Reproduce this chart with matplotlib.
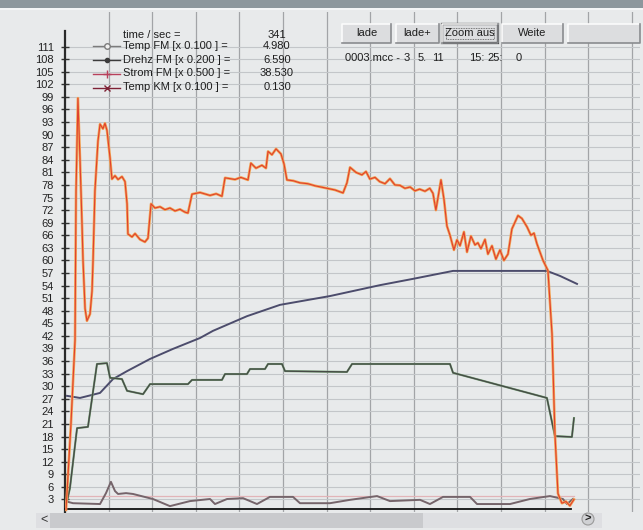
import matplotlib
matplotlib.use('Agg')
import matplotlib.pyplot as plt
from matplotlib.patches import Rectangle, Circle
from matplotlib.lines import Line2D

W, H = 643, 530
FONT = ['Liberation Sans Narrow', 'Liberation Sans', 'DejaVu Sans']
plt.rcParams['font.family'] = FONT

# ---------------- data (time in s, values in display units) ----------------
strom_t = [0.7, 4.1, 6.9, 7.6, 8.9, 10.3, 11.7, 12.4, 13.8, 15.1, 17.2, 18.6, 19.3, 20.6, 22.7,
           24.1, 26.1, 27.5, 28.9, 31.0, 32.3, 34.4, 36.5, 39.2, 41.3, 42.7, 43.3, 46.1, 48.2,
           51.6, 55.0, 57.1, 59.2, 61.9, 65.4, 68.8, 72.2, 75.7, 79.1, 82.6, 84.6, 87.4, 92.9,
           99.8, 104.0, 108.0, 110.1, 117.0, 121.0, 125.9, 127.9, 131.4, 135.5, 138.3, 139.7,
           142.4, 145.2, 148.6, 150.7, 152.7, 157.0, 161.7, 167.0, 172.0, 178.9, 185.8, 191.3,
           194.0, 196.1, 200.2, 204.3, 207.1, 209.8, 213.3, 216.5, 220.2, 223.6, 227.0, 230.5,
           233.9, 237.5, 240.8, 244.0, 247.7, 251.0, 253.2, 255.2, 258.7, 260.8, 262.8, 264.9,
           267.6, 269.7, 271.8, 274.5, 276.6, 279.3, 282.1, 284.1, 286.2, 289.0, 291.0, 293.8,
           296.5, 299.3, 302.0, 304.8, 307.5, 311.7, 314.4, 317.9, 320.6, 322.7, 324.7, 328.9,
           332.3, 335.1, 337.1, 339.2, 341.9, 344.7, 347.4, 350.2]
strom_v = [0.5, 21.0, 41.0, 76.6, 98.7, 84.4, 68.7, 60.0, 48.5, 45.6, 47.2, 52.7, 60.0, 76.6, 88.5,
           92.5, 91.4, 92.7, 91.0, 84.4, 79.4, 80.2, 79.3, 80.0, 78.8, 73.5, 66.3, 65.6, 66.4,
           65.0, 64.4, 65.3, 73.5, 72.5, 72.8, 72.1, 72.5, 71.8, 72.2, 71.5, 71.3, 75.8, 76.2,
           75.5, 75.9, 75.3, 79.7, 79.3, 79.8, 79.2, 83.2, 82.0, 82.7, 82.0, 86.0,
           85.2, 86.6, 85.4, 83.0, 79.2, 79.0, 78.5, 78.3, 77.8, 77.3, 76.8, 76.1,
           78.5, 82.2, 81.0, 80.4, 81.2, 79.4, 79.8, 78.8, 78.3, 79.5, 78.0, 77.9,
           77.2, 77.5, 76.6, 77.0, 76.5, 77.2, 76.0, 72.0, 79.2, 74.5, 68.2, 66.0,
           62.5, 64.9, 63.5, 66.8, 62.0, 65.8, 63.7, 64.2, 62.8, 65.0, 61.5, 63.5,
           60.3, 62.5, 60.0, 61.5, 67.5, 70.7, 70.0, 68.0, 66.0, 66.5, 64.0, 60.0,
           57.6, 42.5, 18.7, 4.4, 2.1, 2.5, 1.5, 3.0]

temp_fm_t = [1.4, 10.3, 24.1, 33.0, 42.7, 58.5, 74.3, 92.9, 101.8, 125.2, 147.9, 182.3,
             216.7, 239.4, 267.0, 299.3, 331.6, 340.6, 352.3]
temp_fm_v = [27.7, 27.2, 28.4, 31.7, 33.6, 36.5, 38.9, 41.5, 43.2, 46.7, 49.4, 51.5,
             54.1, 55.6, 57.5, 57.5, 57.5, 56.3, 54.4]

drehz_t = [1.4, 3.4, 8.3, 15.8, 22.0, 28.9, 31.0, 39.2, 42.7, 53.7, 58.5, 84.6, 87.4, 108.0,
           110.1, 125.2, 127.3, 137.6, 139.7, 149.3, 151.4, 194.0, 197.5, 264.9, 267.0,
           331.6, 337.1, 348.8, 350.2]
drehz_v = [2.6, 5.7, 20.0, 20.3, 35.3, 35.5, 32.0, 31.7, 28.9, 28.1, 30.5, 30.5, 31.5, 31.5,
           32.9, 32.9, 34.1, 34.1, 35.3, 35.3, 33.6, 33.4, 35.3, 35.3, 33.2,
           27.2, 18.1, 17.9, 22.4]

temp_km_t = [0.0, 5.5, 24.1, 28.2, 31.6, 34.4, 36.5, 42.0, 46.8, 60.5, 72.2, 86.0, 99.8,
             103.2, 111.5, 122.5, 132.1, 141.0, 156.9, 161.7, 182.3, 196.1, 214.7, 223.6,
             244.3, 251.1, 260.1, 278.7, 283.5, 306.2, 319.9, 333.7, 342.6, 345.4, 349.5]
temp_km_v = [2.6, 2.1, 1.9, 4.5, 7.2, 5.0, 4.3, 4.5, 4.3, 3.1, 1.4, 2.6, 3.1,
             1.9, 3.1, 3.3, 1.9, 3.6, 3.6, 2.1, 2.1, 2.9, 3.8, 2.6,
             2.9, 1.9, 3.6, 3.6, 1.9, 1.9, 3.1, 3.8, 3.1, 1.9, 3.1]

ref_level = 3.8
y_ticks = list(range(3, 112, 3))
x_grid = list(range(30, 391, 30))

time_label = "time / sec ="
time_value = "341"
legend_labels = ["Temp FM [x 0.100 ] =", "Drehz FM [x 0.200 ] =",
                 "Strom FM [x 0.500 ] =", "Temp KM [x 0.100 ] ="]
legend_values = ["4.980", "6.590", "38.530", "0.130"]
buttons = ["lade", "lade+", "Zoom aus", "Weite", ""]
file_info = ["0003.mcc -", "3", "5.", "11", "15:", "25:", "0"]

# ---------------- layout helpers ----------------
BG = '#e8eaeb'
fig = plt.figure(figsize=(W / 100, H / 100), dpi=100, facecolor=BG)

def Y(y):
    return H - y

Y_ZERO, Y_TOP = 512, 12
X_LEFT, X_RIGHT = 65, 640
PX_PER_UNIT = 4.193
PX_PER_SEC = 43.6 / 30

ax = fig.add_axes([X_LEFT / W, (H - Y_ZERO) / H, (X_RIGHT - X_LEFT) / W, (Y_ZERO - Y_TOP) / H])
ax.set_facecolor(BG)
ax.set_xlim(0, (X_RIGHT - X_LEFT) / PX_PER_SEC)
ax.set_ylim(0, (Y_ZERO - Y_TOP) / PX_PER_UNIT)

ax.set_yticks(y_ticks)
ax.set_yticklabels([str(v) for v in y_ticks])
ax.set_xticks(x_grid)
ax.tick_params(axis='x', length=0, labelbottom=False)
ax.tick_params(axis='y', direction='inout', length=6, width=1, color='#333333',
               labelsize=8, labelcolor='#222222', pad=5)
ax.grid(axis='y', color='#c3c6c9', lw=0.8)
ax.grid(axis='x', color='#a2a4a7', lw=0.9)
ax.set_axisbelow(True)

for s in ['top', 'right']:
    ax.spines[s].set_visible(False)
ax.spines['left'].set_bounds(0, 114.7)
ax.spines['left'].set_color('#2a2a2a')
ax.spines['left'].set_linewidth(1.6)
ax.spines['bottom'].set_position(('data', 0.6))
ax.spines['bottom'].set_bounds(0, 348)
ax.spines['bottom'].set_color('#111111')
ax.spines['bottom'].set_linewidth(1.3)

# ---------------- series ----------------
ax.axhline(ref_level, xmin=0, xmax=350 / ax.get_xlim()[1], color='#e2b4b8', lw=0.9, zorder=2)
ax.plot(temp_km_t, temp_km_v, color='#75646a', lw=1.4, zorder=3)
ax.plot(temp_fm_t, temp_fm_v, color='#4c4c6c', lw=1.4, zorder=3)
ax.plot(drehz_t, drehz_v, color='#7aa87a', lw=1.5, zorder=3)
ax.plot(drehz_t, drehz_v, color='#474b47', lw=1.0, zorder=4)
ax.plot(strom_t, strom_v, color='#f3a555', lw=1.9, zorder=5)
ax.plot(strom_t, strom_v, color='#e0402e', lw=0.8, zorder=6)

# ---------------- top bar ----------------
fig.add_artist(Rectangle((0, Y(8)), W, 8, transform=None, facecolor='#8d979d', edgecolor='none'))
fig.add_artist(Rectangle((0, Y(10)), W, 2, transform=None, facecolor='#f4f5f6', edgecolor='none'))

# ---------------- legend block ----------------
txt_kw = dict(transform=None, fontsize=8, color='#1e1e1e', va='center', family=FONT)
fig.text(123, Y(35), time_label, ha='left', **txt_kw)
fig.text(277, Y(35), time_value, ha='center', **txt_kw)
leg_rows = [46, 60, 73.5, 87.5]
leg_styles = [
    dict(color='#7c7c7c', marker='o', mfc='#f0f0f0', mec='#7c7c7c', ms=4),
    dict(color='#3c3c3c', marker='o', mfc='#3c3c3c', mec='#3c3c3c', ms=3),
    dict(color='#b8405c', marker='+', mec='#b8405c', ms=6),
    dict(color='#7e2236', marker='x', mec='#7e2236', ms=4.5),
]
for yr, lab, val, st in zip(leg_rows, legend_labels, legend_values, leg_styles):
    fig.add_artist(Line2D([93, 107, 120], [Y(yr)] * 3, transform=None, lw=1.0,
                          markevery=[1], **st))
    fig.text(123, Y(yr), lab, ha='left', **txt_kw)
    fig.text(277, Y(yr), val, ha='center', **txt_kw)

# ---------------- buttons ----------------
btn_x = [(342, 391), (396, 439), (442, 498), (502, 563), (568, 640)]
by0, by1 = 24, 43
for (x0, x1), lab in zip(btn_x, buttons):
    fig.add_artist(Rectangle((x0, Y(by1)), x1 - x0, by1 - by0, transform=None,
                             facecolor='#dcdddf', edgecolor='none'))
    fig.add_artist(Line2D([x0, x0, x1], [Y(by1), Y(by0), Y(by0)], transform=None,
                          color='#fbfbfb', lw=1.2))
    fig.add_artist(Line2D([x0, x1, x1], [Y(by1), Y(by1), Y(by0)], transform=None,
                          color='#8a8c8f', lw=1.2))
    if lab == "Zoom aus":
        fig.add_artist(Rectangle((x0, Y(by1)), x1 - x0, by1 - by0, transform=None,
                                 facecolor='none', edgecolor='#1a1a1a', lw=1.6))
        fig.add_artist(Rectangle((x0 + 4, Y(by1) + 4), x1 - x0 - 8, by1 - by0 - 8,
                                 transform=None, facecolor='none', edgecolor='#555555',
                                 lw=0.6, ls=(0, (1, 1))))
    if lab:
        fig.text((x0 + x1) / 2, Y((by0 + by1) / 2), lab, ha='center', **txt_kw)

# file info line
info_x = [345, 404, 418, 432, 469, 487, 516]
for xi, s in zip(info_x, file_info):
    fig.text(xi, Y(58), s, ha='left', **txt_kw)

# ---------------- scrollbar ----------------
fig.add_artist(Rectangle((36, Y(528)), 566, 15, transform=None, facecolor='#dedfe2', edgecolor='none'))
fig.add_artist(Rectangle((50, Y(528)), 373, 15, transform=None, facecolor='#c9cacd', edgecolor='none'))
fig.text(44, Y(520), '<', ha='center', transform=None, fontsize=9, color='#333333', va='center')
fig.add_artist(Circle((588, Y(519)), 6, transform=None, facecolor='#d0d1d4', edgecolor='#9a9a9a', lw=0.8))
fig.text(588, Y(519), '>', ha='center', transform=None, fontsize=8, color='#222222',
         va='center', fontweight='bold')

fig.savefig('out.png', dpi=100, facecolor=BG)
